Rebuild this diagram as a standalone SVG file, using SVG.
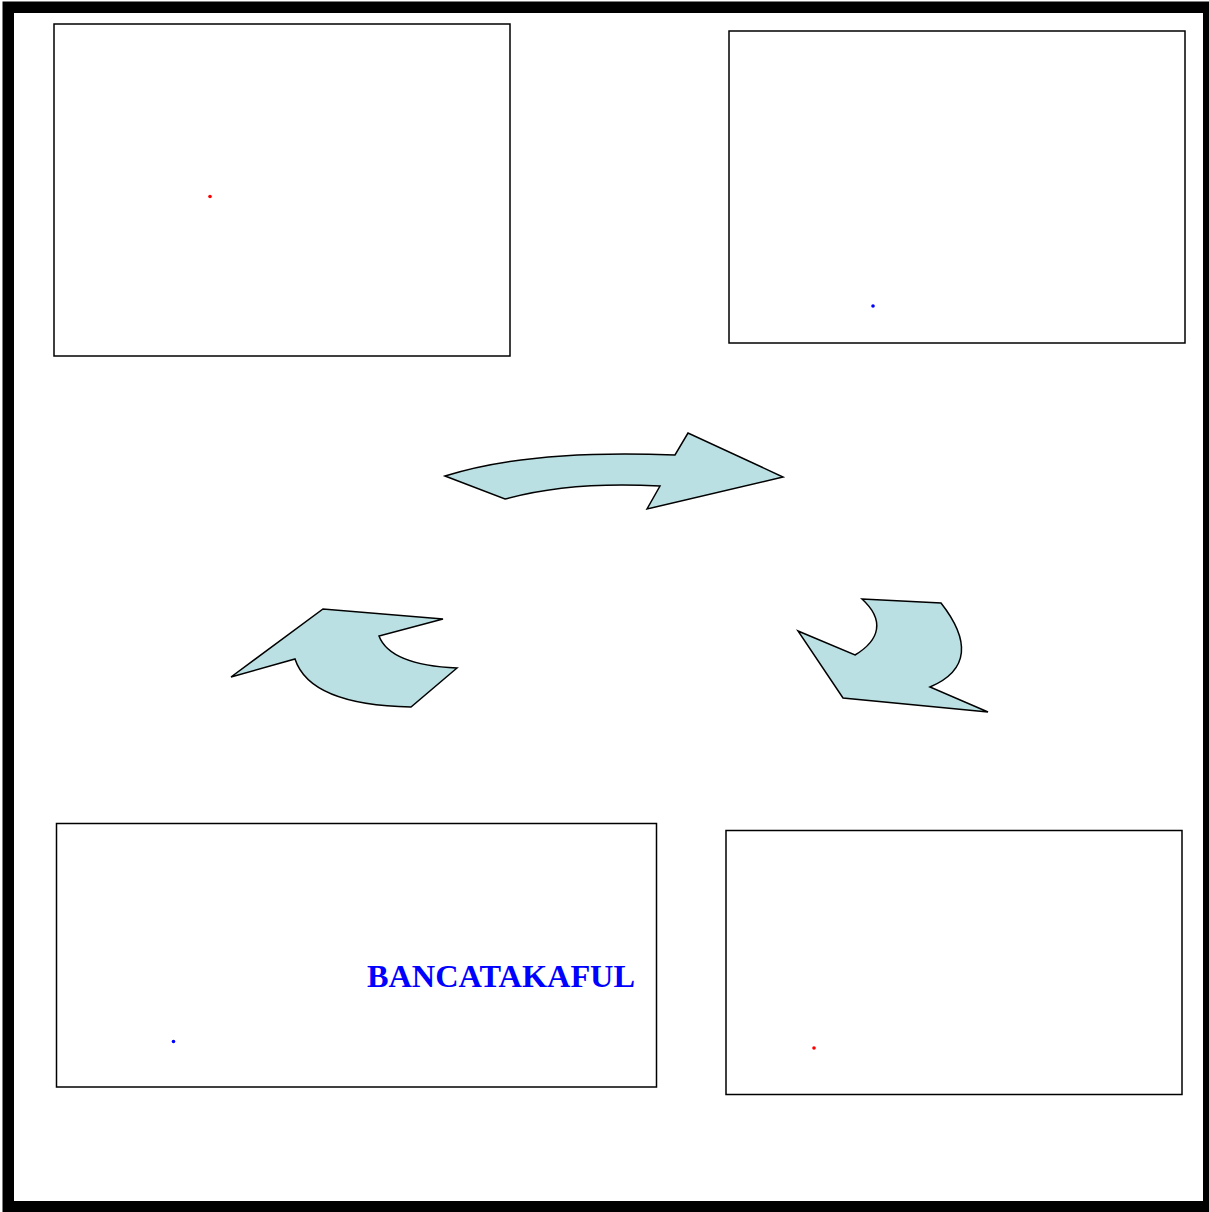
<svg xmlns="http://www.w3.org/2000/svg" width="1209" height="1212" viewBox="0 0 1209 1212">
<style>
.box{fill:#fff;stroke:#000;stroke-width:1.5}
.arr{fill:#BBE0E3;stroke:#000;stroke-width:1.5;stroke-linejoin:miter}
.dot{stroke:none}
.lbl{font-family:"Liberation Serif","Times New Roman",serif;font-weight:bold;font-size:32.5px;fill:#0000FF}
</style>
<rect x="0" y="0" width="1209" height="1212" fill="#fff"/>
<rect x="8.25" y="7.25" width="1200.5" height="1199.5" fill="none" stroke="#000" stroke-width="11.5"/>
<g id="node-top-left">
<rect class="box" x="54" y="24" width="456" height="332"/>
<circle class="dot" cx="210" cy="196.5" r="1.8" fill="#FF0000"/>
</g>
<g id="node-top-right">
<rect class="box" x="729" y="31" width="456" height="312"/>
<circle class="dot" cx="873" cy="306" r="1.8" fill="#0000FF"/>
</g>
<g id="node-bottom-left">
<rect class="box" x="56.5" y="823.5" width="600" height="263.5"/>
<circle class="dot" cx="173.5" cy="1041.5" r="1.8" fill="#0000FF"/>
<text class="lbl" x="367" y="987" textLength="268" lengthAdjust="spacingAndGlyphs">BANCATAKAFUL</text>
</g>
<g id="node-bottom-right">
<rect class="box" x="726" y="830.5" width="456" height="264"/>
<circle class="dot" cx="814" cy="1048" r="1.8" fill="#FF0000"/>
</g>
<g id="connectors">
<path class="arr" d="M445,476 Q530,449 675,455 L688,433 L783,477 L647,509 L660,486 Q570,481 505,499 Z"/>
<path class="arr" d="M231,677 L323,609 L443,619 L379,636 Q390,665 457,668 L411,707 Q310,705 295,659 Z"/>
<path class="arr" d="M862,599 L941,603 C970,640 970,670 930,687 L988,712 L843,698 L798,631 L855,655 C880,640 885,620 862,599 Z"/>
</g>
</svg>
